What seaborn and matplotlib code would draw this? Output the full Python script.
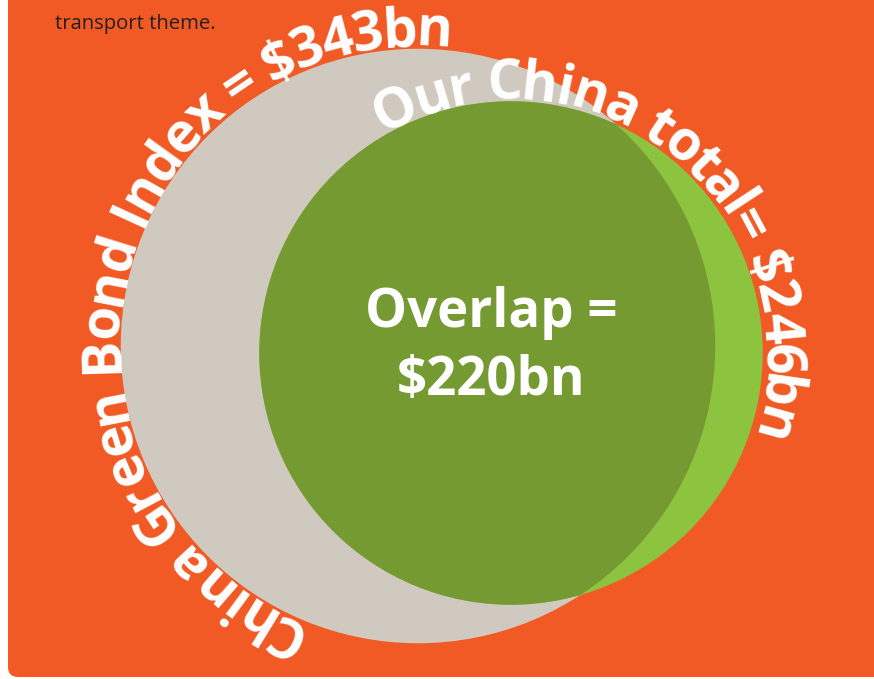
import numpy as np
import matplotlib
matplotlib.use("Agg")
import matplotlib.pyplot as plt
import seaborn as sns
from matplotlib.patches import Circle, FancyBboxPatch
from matplotlib.font_manager import FontProperties

# ---- data ----
set_labels = ["China Green Bond Index", "Our China total"]
set_values = [343, 246]          # $bn
overlap_value = 220              # $bn
caption_lines = ["transport theme."]

# ---- style ----
sns.set_theme(style="white")
plt.rcParams['font.family'] = ['Open Sans', 'DejaVu Sans']

W, H = 874, 679
fig = plt.figure(figsize=(W / 100, H / 100), dpi=100)
ax = fig.add_axes([0, 0, 1, 1])
ax.set_xlim(0, W)
ax.set_ylim(0, H)
ax.axis("off")

ORANGE = "#F15A24"
GREY = "#D0C9BF"
LIGHT_GREEN = "#8CC43F"
DARK_GREEN = "#759A32"

# background panel
panel = FancyBboxPatch((8, 2), 950, 760, boxstyle="round,pad=0,rounding_size=10",
                       fc=ORANGE, ec="none", zorder=0)
ax.add_patch(panel)

# circles: area proportional to value
k = 16.05
radii = [k * np.sqrt(v) for v in set_values]
centers = [(418, H - 346), (511, H - 353)]

grey_c = Circle(centers[0], radii[0], fc=GREY, ec="none", zorder=1)
green_c = Circle(centers[1], radii[1], fc=LIGHT_GREEN, ec="none", zorder=2)
ax.add_patch(grey_c)
ax.add_patch(green_c)
overlap_c = Circle(centers[1], radii[1], fc=DARK_GREEN, ec="none", zorder=3)
ax.add_patch(overlap_c)
overlap_c.set_clip_path(grey_c)

renderer = fig.canvas.get_renderer()


def char_widths(text, fp):
    base = renderer.get_text_width_height_descent("||", fp, ismath=False)[0]
    out = []
    for c in text:
        w = renderer.get_text_width_height_descent("|" + c + "|", fp, ismath=False)[0]
        out.append(w - base)
    return out


def curved_text(text, cx, cy, r_base, r_space, theta0_deg, fp, color="white"):
    widths = char_widths(text, fp)
    s = 0.0
    th0 = np.radians(theta0_deg)
    for c, w in zip(text, widths):
        mid = s + w / 2
        th = th0 - mid / r_space
        x = cx + r_base * np.cos(th)
        y = cy + r_base * np.sin(th)
        ax.text(x, y, c, rotation=np.degrees(th) - 90, rotation_mode="anchor",
                ha="center", va="baseline", fontproperties=fp, color=color, zorder=5)
        s += w


fp_arc = FontProperties(family="Open Sans", weight="bold", size=39.5)
label1 = f"{set_labels[0]} = ${set_values[0]}bn"
label2 = f"{set_labels[1]}= ${set_values[1]}bn"
curved_text(label1, centers[0][0], centers[0][1], radii[0] + 3, radii[0] + 22, 248, fp_arc)
curved_text(label2, centers[1][0], centers[1][1], radii[1] + 2, radii[1] + 21, 120, fp_arc)

# centre text
fp_mid = FontProperties(family="Open Sans", weight="bold", size=38)
ax.text(491, H - 313, "Overlap =", ha="center", va="center", fontproperties=fp_mid,
        color="white", zorder=6)
ax.text(491, H - 381, f"${overlap_value}bn", ha="center", va="center", fontproperties=fp_mid,
        color="white", zorder=6)

# caption
ax.text(55, H - 29, caption_lines[0], ha="left", va="baseline",
        fontproperties=FontProperties(family="Open Sans", size=14.6), color="#231F20", zorder=6)

fig.savefig("out.png", dpi=100)
